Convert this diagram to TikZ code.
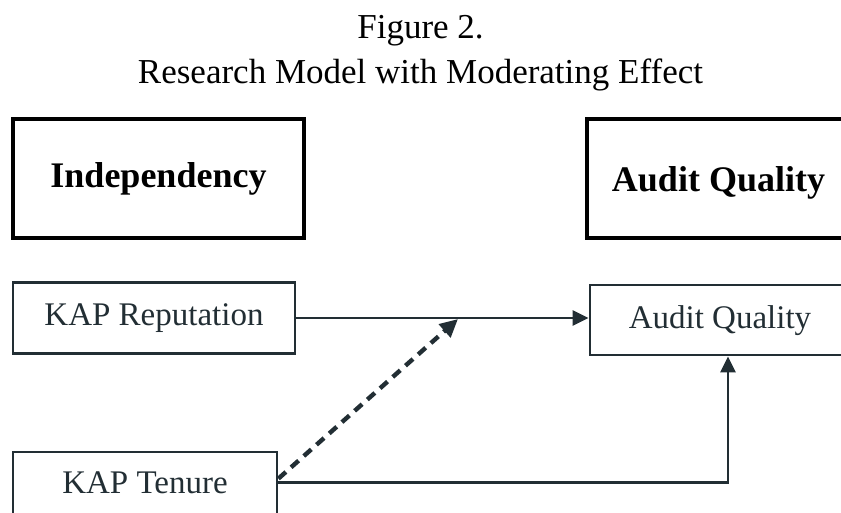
\documentclass[tikz,border=0pt]{standalone}
\usepackage{fontspec}
\setmainfont{Liberation Serif}
\usetikzlibrary{arrows.meta}
\definecolor{scan}{RGB}{34,46,52}
\begin{document}
\begin{tikzpicture}[x=1pt,y=-1pt,
  topbox/.style={draw=black, line width=3.8pt, inner sep=0pt,
    font=\fontsize{36}{40}\selectfont\bfseries},
  lowbox/.style={draw=scan, line width=2.8pt, inner sep=0pt, text=scan,
    font=\fontsize{33}{38}\selectfont},
  link/.style={draw=scan, line width=2.8pt, -{Triangle[length=16pt,width=15pt]}},
  modlink/.style={draw=scan, line width=4.4pt, dash pattern=on 10pt off 7pt,
    -{Triangle[length=18pt,width=17pt]}},
  titletext/.style={font=\fontsize{35}{40}\selectfont, anchor=base, inner sep=0pt}]
\useasboundingbox (0,0) rectangle (841,512);
\clip (0,0) rectangle (841,512);

% title
\node[titletext] (t1) at (420.5,38) {Figure 2.};
\node[titletext] (t2) at (420.5,83) {Research Model with Moderating Effect};

% top boxes
\node[topbox, minimum width=291pt, minimum height=119pt, text height=24pt, text depth=7pt]
  (ind) at (158.5,178.5) {Independency};
\node[topbox, minimum width=263pt, minimum height=119pt, text height=26pt, text depth=0pt]
  (aqt) at (718.5,178.5) {Audit Quality};

% lower boxes
\node[lowbox, minimum width=282pt, minimum height=71pt, text height=22pt, text depth=7pt]
  (rep) at (154,318) {KAP Reputation};
\node[lowbox, minimum width=260pt, minimum height=70pt, text height=23pt, text depth=7pt]
  (aql) at (720,320) {Audit Quality};
\node[lowbox, minimum width=264pt, minimum height=100pt, text height=22pt, text depth=40pt]
  (ten) at (145,502) {KAP Tenure};

% connectors
\draw[link] (rep.east) -- (rep.east -| aql.west);
\coordinate (tenout) at ([yshift=-32pt]ten.north east);
\draw[link] (tenout) -| ([xshift=8pt]aql.south);
\coordinate (modtip) at (458,319);
\draw[modlink] ([yshift=-28pt]ten.north east) -- (modtip);
\end{tikzpicture}
\end{document}
